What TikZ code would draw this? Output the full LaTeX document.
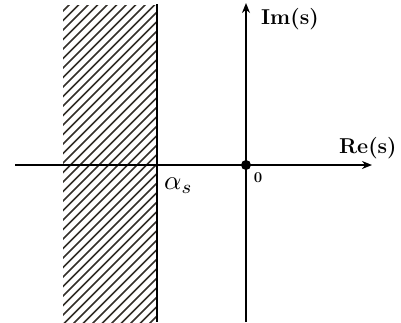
\documentclass[tikz,border=0pt]{standalone}
\usetikzlibrary{arrows.meta}
\begin{document}
\begin{tikzpicture}[x=1pt,y=-1pt,
  axis/.style={line width=2.6pt,-{Stealth[length=10pt,width=8pt]}},
  hatchline/.style={line width=1.5pt,black!85!olive},
  lbl/.style={font=\bfseries\fontsize{21.5}{24}\selectfont,inner sep=0pt}]
\useasboundingbox (0,0) rectangle (401,322);
% hatched half-plane
\begin{scope}
  \clip (63,5) rectangle (156,322);
  \foreach \k in {0,...,55} {
    \draw[hatchline] (60,{\k*9.5-100}) -- ++(100,-100);
  }
\end{scope}
\coordinate (bt) at (157,4);
\coordinate (bb) at (157,322);
\draw[line width=2.8pt] (bt) -- (bb);
% axes
\coordinate (xs) at (15,165);
\coordinate (xe) at (372,165);
\coordinate (ys) at (246,322);
\coordinate (ye) at (246,3);
\draw[axis] (xs) -- (xe);
\draw[axis] (ys) -- (ye);
\node[circle,fill=black,inner sep=0pt,minimum size=10pt] (o) at (246,165) {};
% labels
\node[lbl,anchor=west] (im) at (261,19) {Im(s)};
\node[lbl,anchor=west] (re) at (339,148) {Re(s)};
\node[font=\bfseries\fontsize{15}{17}\selectfont,inner sep=0pt] (zero) at (258,178) {0};
\node[inner sep=0pt,anchor=west] (alpha) at (164,186) {\scalebox{2.7}{$\alpha_s$}};
\end{tikzpicture}
\end{document}
